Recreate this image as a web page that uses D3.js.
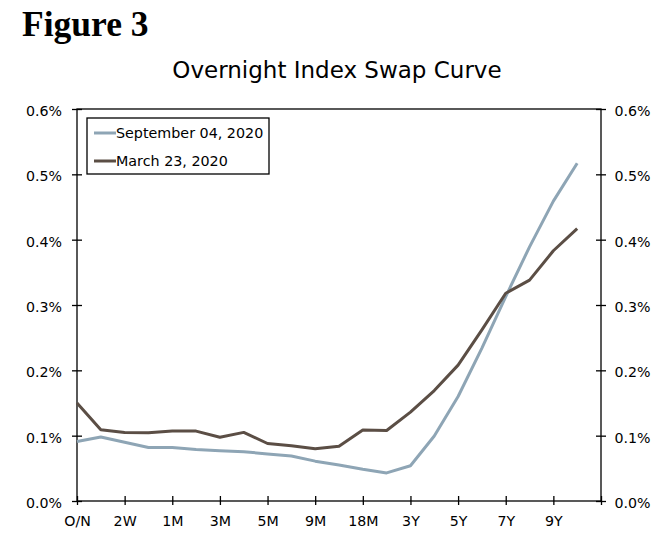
<!DOCTYPE html>
<html>
<head>
<meta charset="utf-8">
<script src="https://cdn.jsdelivr.net/npm/d3@7"></script>
<style>
  body { margin: 0; background: #fff; }
  svg { display: block; }
  .tick text { font-family: "DejaVu Sans", Verdana, sans-serif; font-size: 14.2px; fill: #000; }
  .line { fill: none; stroke-width: 3; stroke-linejoin: round; }
</style>
</head>
<body>
<div class="content"></div>
<script>
// tenors along the curve
var tenors = ["O/N", "1W", "2W", "3W", "1M", "2M", "3M", "4M", "5M", "6M", "9M",
              "12M", "18M", "2Y", "3Y", "4Y", "5Y", "6Y", "7Y", "8Y", "9Y", "10Y"];

// rates in percent
var sep04 = [0.091, 0.098, 0.090, 0.082, 0.082, 0.079, 0.077, 0.0755, 0.072, 0.069, 0.061,
             0.055, 0.0485, 0.043, 0.054, 0.0995, 0.160, 0.234, 0.313, 0.389, 0.459, 0.517];
var mar23 = [0.150, 0.109, 0.105, 0.1045, 0.107, 0.107, 0.0975, 0.105, 0.088, 0.0847, 0.080,
             0.0837, 0.1087, 0.108, 0.136, 0.169, 0.208, 0.262, 0.318, 0.338, 0.383, 0.417];

var seriesNames = ["September 04, 2020", "March 23, 2020"];
var yTicks = [0, 0.1, 0.2, 0.3, 0.4, 0.5, 0.6];

var fullWidth = 669, fullHeight = 543;
var margin = {top: 109, right: 68, bottom: 42, left: 77};
var width = fullWidth - margin.left - margin.right;
var height = fullHeight - margin.top - margin.bottom;
var color = ["#8ea5b5", "#5b4e45"];

var root = d3.select("div.content").append("svg")
    .attr("width", fullWidth)
    .attr("height", fullHeight);

//figure heading
root.append("text")
    .attr("x", 22)
    .attr("y", 36)
    .style("font-family", "'Liberation Serif', serif")
    .style("font-weight", "bold")
    .style("font-size", "35.5px")
    .text("Figure 3");

//chart title
root.append("text")
    .attr("x", 337)
    .attr("y", 78)
    .style("text-anchor", "middle")
    .style("font-family", "'DejaVu Sans', Verdana, sans-serif")
    .style("font-size", "23px")
    .text("Overnight Index Swap Curve");

var svg = root.append("g")
    .attr("transform", "translate(" + margin.left + "," + margin.top + ")");

// categories sit on the tick marks, with one empty slot at the end
var x = d3.scaleLinear().domain([0, tenors.length]).range([0, width]);
var y = d3.scaleLinear().domain([0, 0.6]).range([height, 0]);

var labelIdx = d3.range(0, tenors.length + 1, 2);

var xAxis = d3.axisBottom(x)
    .tickValues(labelIdx)
    .tickSize(4)
    .tickFormat(function(d){ return tenors[d] || ""; });
var yLeft = d3.axisLeft(y).tickValues(yTicks).tickSize(5).tickFormat(function(d){ return d3.format(".1f")(d) + "%"; });
var yRight = d3.axisRight(y).tickValues(yTicks).tickSize(5).tickFormat(function(d){ return d3.format(".1f")(d) + "%"; });

//frame
svg.append("rect")
    .attr("width", width)
    .attr("height", height)
    .attr("fill", "none")
    .attr("stroke", "#000")
    .attr("stroke-width", 1.3);

//x-axis
var gx = svg.append("g")
    .attr("class", "x-axis")
    .attr("transform", "translate(0," + height + ")")
    .call(xAxis);
gx.selectAll(".tick line").attr("y1", -5).attr("stroke-width", 1.3);
gx.selectAll(".tick text").attr("dy", "1.28em");

//y-axes
var gl = svg.append("g").attr("class", "y-axis").call(yLeft);
gl.selectAll(".tick line").attr("x1", 5).attr("x2", -5).attr("stroke-width", 1.3);
gl.selectAll(".tick text").attr("x", -15).attr("dy", "0.45em");

var gr = svg.append("g").attr("class", "y-axis")
    .attr("transform", "translate(" + width + ",0)")
    .call(yRight);
gr.selectAll(".tick line").attr("x1", -5).attr("x2", 5).attr("stroke-width", 1.3);
gr.selectAll(".tick text").attr("x", 13.5).attr("dy", "0.45em");

svg.selectAll(".domain").remove();

//lines
var valueLine = d3.line()
    .x(function(d, i){ return x(i); })
    .y(function(d){ return y(d); });

[sep04, mar23].forEach(function(data, k){
    svg.append("path")
        .datum(data)
        .attr("class", "line")
        .attr("d", valueLine)
        .style("stroke", color[k]);
});

//legend
var legend = root.append("g").attr("transform", "translate(87,118)");
legend.append("rect")
    .attr("width", 182)
    .attr("height", 56)
    .attr("fill", "#fff")
    .attr("stroke", "#000")
    .attr("stroke-width", 1.3);
seriesNames.forEach(function(name, k){
    var yy = 15 + k * 28;
    legend.append("line")
        .attr("x1", 7).attr("x2", 29)
        .attr("y1", yy).attr("y2", yy)
        .attr("stroke", color[k])
        .attr("stroke-width", 3);
    legend.append("text")
        .attr("x", 29)
        .attr("y", yy + 5)
        .style("font-family", "'DejaVu Sans', Verdana, sans-serif")
        .style("font-size", "14.3px")
        .text(name);
});
</script>
</body>
</html>
